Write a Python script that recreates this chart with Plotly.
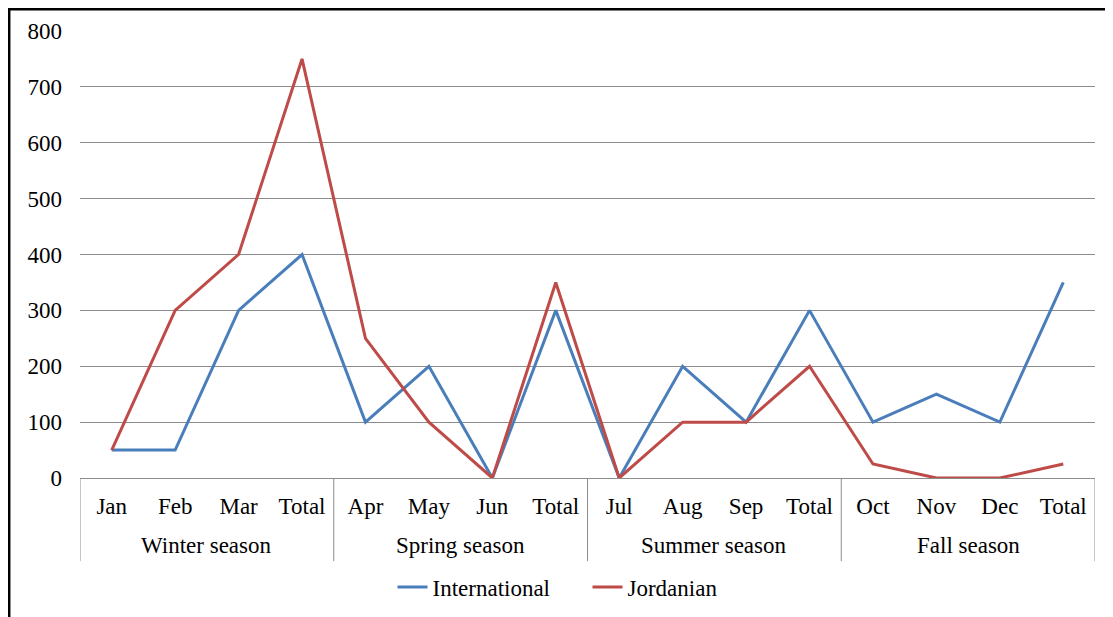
import plotly.graph_objects as go

# Season groups and months (two-level category axis)
months = ["Jan", "Feb", "Mar", "Total",
          "Apr", "May", "Jun", "Total",
          "Jul", "Aug", "Sep", "Total",
          "Oct", "Nov", "Dec", "Total"]
seasons = ["Winter season", "Spring season", "Summer season", "Fall season"]

international = [50, 50, 300, 400, 100, 200, 0, 300, 0, 200, 100, 300, 100, 150, 100, 350]
jordanian = [50, 300, 400, 750, 250, 100, 0, 350, 0, 100, 100, 200, 25, 0, 0, 25]

BLUE = "#4A7EBB"
RED = "#BE4B48"
GREY = "#8C8C8C"
FONT = "Liberation Serif, Times New Roman, serif"

x = list(range(len(months)))

fig = go.Figure()
fig.add_trace(go.Scatter(x=x, y=international, name="International",
                         mode="lines", line=dict(color=BLUE, width=3)))
fig.add_trace(go.Scatter(x=x, y=jordanian, name="Jordanian",
                         mode="lines", line=dict(color=RED, width=3)))

# season labels and group dividers below the axis
for i, s in enumerate(seasons):
    fig.add_annotation(x=i * 4 + 1.5, y=-0.152, xref="x", yref="paper", text=s,
                       showarrow=False, yanchor="middle", font=dict(size=23))
for b in [-0.5, 3.5, 7.5, 11.5, 15.5]:
    fig.add_shape(type="line", xref="x", yref="paper", x0=b, x1=b, y0=0, y1=-0.186,
                  line=dict(color=GREY, width=1))

# outer frame (top and left edges visible)
fig.add_shape(type="rect", xref="paper", yref="paper",
              x0=-0.07, x1=1.2, y0=-0.5, y1=1.049,
              line=dict(color="black", width=3), layer="below")

fig.update_layout(
    width=1113, height=617,
    paper_bgcolor="white", plot_bgcolor="white",
    font=dict(family=FONT, size=23, color="black"),
    margin=dict(l=72, r=26, t=23, b=147),
    showlegend=True,
    legend=dict(orientation="h", x=0.5, xanchor="center", y=-0.244, yanchor="middle",
                font=dict(size=23), entrywidth=150, entrywidthmode="pixels"),
    xaxis=dict(range=[-0.5, 15.5], tickvals=x, ticktext=months, showline=True,
               linecolor=GREY, linewidth=1, showgrid=False, zeroline=False, ticks="",
               ticklabelstandoff=7, automargin=False),
    yaxis=dict(range=[0, 800], dtick=100, showgrid=True, gridcolor=GREY,
               gridwidth=1, zeroline=False, showline=False, ticks="",
               ticklabelstandoff=17, automargin=False),
)

fig.write_html("out.html")
